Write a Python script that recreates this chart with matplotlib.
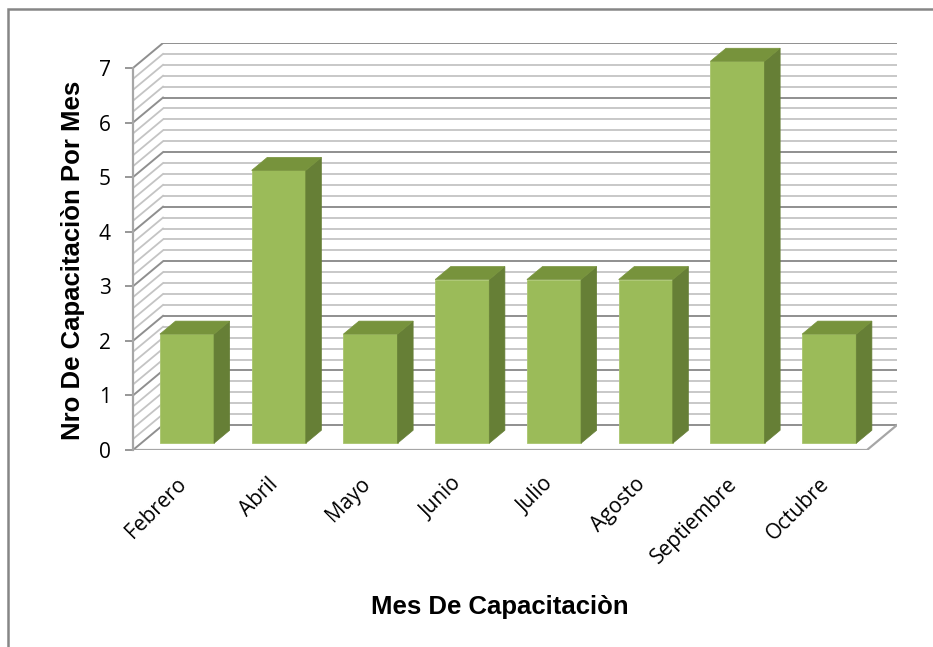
import numpy as np
import matplotlib
matplotlib.use("Agg")
import matplotlib.pyplot as plt
from matplotlib.patches import Polygon, Rectangle

# data
meses = ['Febrero', 'Abril', 'Mayo', 'Junio', 'Julio', 'Agosto', 'Septiembre', 'Octubre']
capacitaciones = [2, 5, 2, 3, 3, 3, 7, 2]
y_ticks = [0, 1, 2, 3, 4, 5, 6, 7]

# pseudo 3D geometry (data units)
DX, DY = 0.327, 0.458      # full depth of the floor/walls
D0, D1 = 0.27, 0.79        # bar front/back depth fraction
BAR_W = 0.59
YMAX = 7

FRONT = '#9BBB59'
SIDE = '#667F36'
TOP = '#77933C'
GRID_MINOR = '#C4C4C4'
GRID_MAJOR = '#8F8F8F'

fig = plt.figure(figsize=(9.33, 6.47), dpi=100)
ax = fig.add_axes([133 / 933, (647 - 450) / 647, (897 - 133) / 933, (450 - 43) / 647])
n = len(meses)
ax.set_xlim(-0.5, n - 0.5 + DX)
ax.set_ylim(0, YMAX + DY)

# walls: gridlines on back and left wall
for y in np.round(np.arange(0, YMAX + 0.001, 0.2), 2):
    major = abs(y - round(y)) < 1e-6
    c = GRID_MAJOR if major else GRID_MINOR
    lw = 1.4 if major else 1.3
    ax.plot([-0.5 + DX, n - 0.5 + DX], [y + DY, y + DY], color=c, lw=lw, zorder=1,
            solid_capstyle='butt')
    ax.plot([-0.5, -0.5 + DX], [y, y + DY], color=c, lw=lw, zorder=1)

# floor edges
ax.plot([-0.5, n - 0.5, n - 0.5 + DX], [0, 0, DY], color='#A6A6A6', lw=1.6, zorder=2)

# bars
xs = np.arange(n)
x_front = xs + D0 * DX
dd = D1 - D0
ax.bar(x_front, capacitaciones, width=BAR_W, bottom=D0 * DY, color=FRONT,
       edgecolor='#A9C56E', linewidth=0.6, zorder=3)
for xf, v in zip(x_front, capacitaciones):
    x0, x1 = xf - BAR_W / 2, xf + BAR_W / 2
    b, t = D0 * DY, v + D0 * DY
    side = Polygon([(x1, b), (x1, t), (x1 + dd * DX, t + dd * DY), (x1 + dd * DX, b + dd * DY)],
                   closed=True, facecolor=SIDE, edgecolor=SIDE, lw=0.5, zorder=3)
    top = Polygon([(x0, t), (x1, t), (x1 + dd * DX, t + dd * DY), (x0 + dd * DX, t + dd * DY)],
                  closed=True, facecolor=TOP, edgecolor=TOP, lw=0.5, zorder=3)
    ax.add_patch(side)
    ax.add_patch(top)

# axes styling
for s in ['top', 'right', 'bottom']:
    ax.spines[s].set_visible(False)
ax.spines['left'].set_bounds(0, YMAX)
ax.spines['left'].set_color('#A6A6A6')
ax.spines['left'].set_linewidth(1.6)
ax.set_yticks(y_ticks)
ax.set_yticklabels([str(t) for t in y_ticks], fontsize=15, family='Open Sans')
ax.tick_params(axis='y', length=6, width=1.3, color='#8F8F8F', pad=10, direction='out')

ax.set_xticks(xs - 0.03)
ax.set_xticklabels(meses, rotation=45, ha='right', rotation_mode='anchor',
                   fontsize=15, family='Open Sans')
ax.tick_params(axis='x', length=0, pad=17)

fig.text(500 / 933, 1 - 607 / 647, 'Mes De Capacitaciòn', ha='center', va='center',
         fontsize=18.5, fontweight='bold', family='Liberation Sans')
fig.text(73 / 933, 1 - 260 / 647, 'Nro De Capacitaciòn Por Mes', ha='center', va='center',
         rotation=90, fontsize=18.5, fontweight='bold', family='Liberation Sans')

# chart border
fig.patches.append(Rectangle((8 / 933, -0.1), 1.2, 1 - 9 / 647 + 0.1, transform=fig.transFigure,
                             fill=False, edgecolor='#868686', lw=1.8))

fig.savefig('out.png', dpi=100)
